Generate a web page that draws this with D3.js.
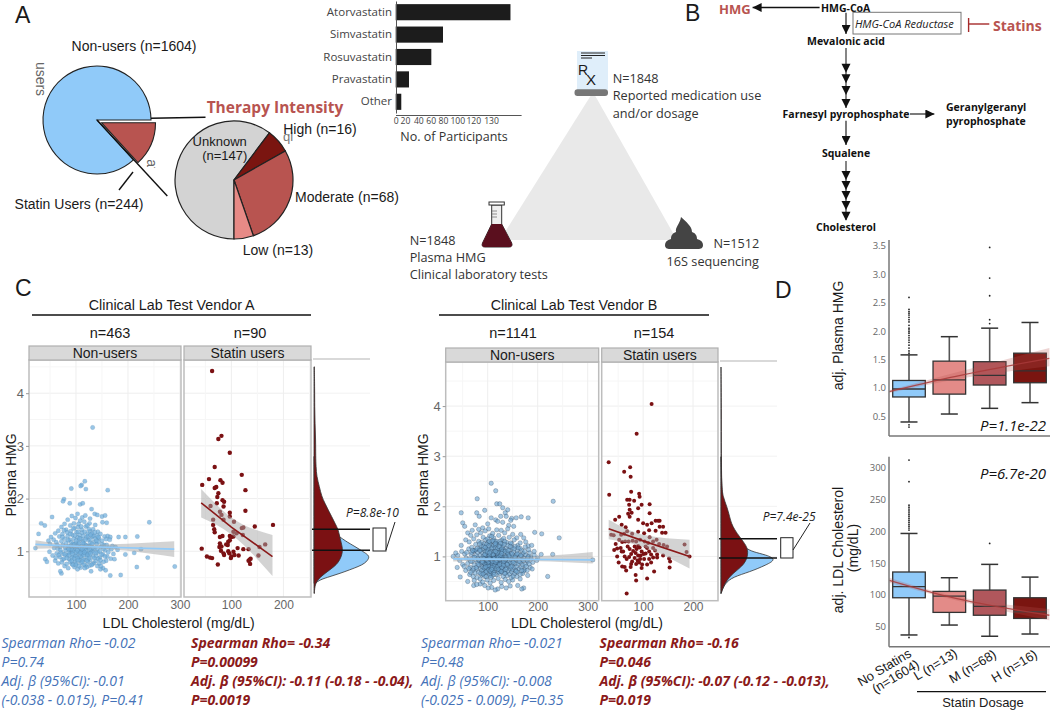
<!DOCTYPE html>
<html lang="en">
<head>
<meta charset="UTF-8">
<title>Statin use, plasma HMG and LDL cholesterol</title>
<script src="https://d3js.org/d3.v7.min.js"></script>
<style>
    html, body { margin: 0; padding: 0; background: #fff; }
    svg { display: block; }
    text { font-family: "Liberation Sans", Arial, sans-serif; }
    .os { font-family: "Open Sans", sans-serif; }
</style>
</head>
<body>
<div id="chart"></div>
<script>
// Panel A
const useLabels = ["Statin users", "Non-users"];
const useCounts = [244, 1604];
const intensityLabels = ["Unknown", "High", "Moderate", "Low"];
const intensityCounts = [147, 16, 68, 13];
const drugNames = ["Atorvastatin", "Simvastatin", "Rosuvastatin", "Pravastatin", "Other"];
const drugCounts = [141, 80, 61, 26, 12];
const drugTicks = [0, 20, 40, 60, 80, 100, 120, 130];

// Panel C, points are [LDL, HMG]
const nonUsersA = [[132,3.35],[111,2.26],[109,2.24],[117,2.33],[119,2.18],[91,2.19],[161,2.16],[77,1.99],[75,1.95],[88,1.91],[108,1.89],[113,1.91],[130,1.8],[241,1.55],[54,1.65],[33,1.53],[40,1.49],[28,1.33],[22,1.06],[290,.71],[238,.88],[217,.7],[186,.55],[166,.54],[72,.58],[41,.85],[44,.8],[218,1.28],[225,1.04],[212,.97],[195,1.27],[182,1.27],[195,.94],
[72,1.46],[78,1.52],[84,1.6],[92,1.67],[99,1.63],[103,1.71],[112,1.64],[118,1.68],[127,1.62],[136,1.71],[141,1.69],[150,1.66],[156,1.68],[151,1.55],[159,1.54],[126,1.53],[116,1.56],[108,1.58],[96,1.53],[89,1.49],[66,1.39],[60,1.34],[52,1.27],[57,1.22],[47,1.2],[50,1.14],[62,1.17],[68,1.28],[74,1.33],[81,1.41],[90,1.38],[97,1.44],[104,1.46],[111,1.41],[119,1.47],[127,1.38],[133,1.42],[142,1.37],[147,1.33],[155,1.28],[161,1.29],[166,1.27],[170,1.1],[176,1.08],[180,1.03],[172,.95],[167,.86],[174,.85],[158,.82],[152,.68],[157,.64],[147,.66],[141,.72],[135,.78],[129,.62],[118,.73],[109,.69],[103,.66],[97,.7],[92,.76],[85,.68],[78,.72],[70,.62],[66,.77],[60,.82],[55,.92],[49,.99],[63,.96],[69,.89],[74,.84],
[76,.95],[80,1.02],[83,.92],[87,.85],[90,.98],[93,1.08],[95,.9],[98,.81],[100,1.04],[102,.94],[104,1.12],[106,.88],[108,1],[110,.78],[111,1.1],[112,.92],[114,1.19],[115,1.03],[116,.84],[118,.96],[119,1.12],[121,.89],[122,1.06],[124,1.22],[125,.97],[127,.83],[128,1.11],[130,1],[131,1.28],[133,.9],[135,1.17],[136,1.05],[138,.82],[140,1.14],[142,.98],[144,1.25],[146,.88],[148,1.08],[150,1.2],[152,.94],[154,1.12],[156,1.02],[158,1.23],[160,.9],[163,1.07],[165,1.22],[168,1.04],[69,1.08],[72,1.19],[75,1.12],[78,1.24],[81,1.16],[84,1.29],[86,1.1],[88,1.22],[91,1.17],[93,1.31],[96,1.24],[99,1.15],[101,1.36],[103,1.27],[105,1.2],[107,1.31],[110,1.24],[112,1.35],[114,1.29],[117,1.37],[120,1.26],[122,1.33],[125,1.42],[128,1.22],[131,1.34],[134,1.29],[137,1.24],[140,1.3],[143,1.18],[58,1.06],[61,.88],[65,1.05],[67,.93],[71,.98],[73,.79],[77,.86],[82,.76],[86,.97],[89,.8],[94,.74],[96,1.01],[99,.91],[101,.77],[105,.98],[107,1.07],[109,.9],[113,.84],[113,1],[117,1.05],[120,.97],[123,.8],[126,.92],[129,1.04],[132,.76],[134,.98],[139,.91],[143,.86],[145,.77],[149,.94],[153,.8],[94,.99],[97,1.09],[100,.98],[103,1.02],[106,1.15],[109,1.06],[111,.96],[116,1.14],[119,1.01],[122,.93],[124,1.09],[127,1.16],[92,.88],[88,1.04],[84,1.06],[79,.94],[107,.83],[115,.75],[121,.7],[126,.73],[83,1.36],[77,1.4],[105,1.52],[122,1.49],[137,1.5],
[64,1.12],[70,1.02],[74,1.27],[79,1.07],[82,.87],[85,1.21],[87,.93],[89,1.33],[91,1.04],[92,.82],[94,1.14],[95,1.43],[97,.86],[98,1.3],[100,.74],[101,1.1],[103,.87],[104,1.37],[106,.72],[107,1.24],[109,.97],[110,1.47],[112,.8],[113,1.16],[115,.93],[117,.68],[118,1.22],[120,1.1],[121,.82],[123,1.29],[125,.87],[126,1.04],[128,.96],[130,.74],[131,1.14],[133,1.07],[135,.87],[136,1.36],[138,.97],[141,1.05],[143,1.27],[146,1],[148,.72],[150,1.13],[153,1.05],[156,.9],[159,1.12],[162,.98],[100,1.2],[96,1.12],[90,1.1],[86,1.04],[112,1.04],[116,.98],[104,.83],[93,.95],[128,1.31],[139,1.2],[147,.83]];
const statinA = [[63,4.42],[75,3.13],[81,3.19],[97,2.87],[68,2.6],[120,2.45],[44,2.26],[57,2.37],[79,2.35],[83,2.3],[71,2.22],[68,2.2],[127,2.16],[75,2.1],[73,2.03],[83,1.97],[86,1.94],[72,1.91],[60,1.86],[85,1.85],[127,1.77],[78,1.75],[81,1.69],[97,1.73],[97,1.66],[85,1.6],[105,1.56],[180,1.5],[65,1.6],[65,1.5],[145,1.47],[67,1.42],[123,1.45],[120,1.44],[104,1.37],[110,1.34],[83,1.29],[97,1.29],[100,1.27],[104,1.28],[78,1.27],[122,1.31],[94,1.18],[97,1.21],[93,1.12],[90,1.13],[78,1.15],[77,1.08],[81,1.09],[80,1.01],[43,1.05],[133,1.04],[123,1.04],[112,1.06],[104,.99],[94,1],[86,.93],[85,.96],[154,1.08],[165,1.13],[53,.9],[59,.88],[63,.87],[74,.75],[100,.9],[106,.93],[114,.92],[99,.87],[135,.84],[137,.86],[133,.82],[136,.76],[152,.92],[96,.96],[68,1.36]];
const nonUsersB = [[107,2.46],[116,2.31],[47,1.87],[79,2.15],[130,1.97],[118,2.05],[124,2.05],[231,2.1],[243,1.37],[208,1.45],[194,1.48],[181,1.77],[167,1.79],[148,1.76],[140,1.93],[135,1.87],[50,1.67],[54,1.6],[40,1.02],[36,1.07],[31,1],[45,.59],[60,.5],[72,.42],[220,.6],[310,.93],[230,1.04],[207,1.04],[193,1.03],[186,.98],[200,.97],[78,1.87],[83,1.8],[94,1.92],[100,1.65],[107,1.77],[116,1.73],[126,1.8],[137,1.8],[146,1.72],[157,1.77],[152,1.6],[142,1.62],[130,1.68],[120,1.7],[75,1.63],[69,1.52],[82,1.54],[90,1.57],[60,1.47],[66,1.42],[56,1.33],[47,1.22],[63,1.29],[72,1.35],[78,1.43],[86,1.47],[95,1.51],[102,1.55],[110,1.46],[118,1.53],[127,1.52],[134,1.47],[140,1.55],[150,1.44],[158,1.37],[166,1.44],[172,1.37],[176,1.29],[181,1.21],[188,1.22],[182,1.13],[175,1.19],[168,1.12],[193,1.1],[198,.92],[190,.88],[180,.9],[185,.78],[174,.74],[170,.66],[180,.62],[165,.55],[158,.6],[150,.53],[145,.41],[160,.42],[172,.37],[168,.35],[137,.37],[128,.4],[120,.35],[115,.33],[108,.38],[101,.37],[94,.42],[85,.45],[78,.44],[73,.52],[64,.64],[56,.72],[50,.84],[44,.92],[39,.78],[48,1.1],[54,1.05],[57,.97],[62,1.15],[68,1.18],[72,1.1],[76,1.24],[82,1.3],[88,1.28],[91,1.38],[96,1.33],[104,1.41],[108,1.3],[112,1.37],[117,1.26],[122,1.42],[128,1.33],[132,1.36],[138,1.28],[143,1.38],[148,1.25],[153,1.33],[160,1.22],[165,1.27],
[60,.86],[63,.95],[65,.78],[67,1.04],[69,.9],[70,.72],[71,.6],[72,.98],[73,.83],[74,1.12],[75,.67],[76,.93],[77,1.02],[78,.75],[79,.58],[80,.88],[80,1.08],[81,.97],[82,.68],[83,1.16],[83,.82],[84,.92],[85,.55],[85,1.02],[86,.76],[87,1.21],[87,.87],[88,.63],[88,.97],[89,1.08],[90,.79],[90,.49],[91,.92],[91,1.15],[92,.71],[92,1.01],[93,.86],[93,1.25],[94,.96],[94,.6],[95,.8],[95,1.1],[96,.9],[96,.68],[97,1],[97,1.19],[98,.75],[98,.87],[99,.94],[99,.53],[100,1.06],[100,.82],[101,1.28],[101,.91],[102,.66],[102,.98],[103,.86],[103,1.14],[104,.77],[104,.94],[105,.47],[105,1.03],[106,.88],[106,.7],[107,.99],[107,1.22],[108,.83],[108,.92],[109,1.09],[109,.61],[110,.95],[110,.76],[111,.88],[111,1.17],[112,1.01],[112,.52],[113,.91],[113,.8],[114,1.31],[114,.97],[115,.72],[115,1.06],[116,.86],[116,.93],[117,.64],[117,1.13],[118,.98],[118,.84],[119,.78],[119,1.24],[120,.91],[120,1.03],[121,.56],[121,.87],[122,.95],[122,1.12],[123,.73],[123,.83],[124,1],[124,.66],[125,.9],[125,1.19],[126,.8],[126,1.07],[127,.96],[127,.48],[128,.87],[128,.69],[129,1.02],[129,1.25],[130,.76],[130,.93],[131,1.12],[131,.6],[132,.85],[132,.98],[133,.72],[133,1.06],[134,.92],[134,1.3],[135,.81],[135,.54],[136,1],[136,.67],[137,.88],[137,1.16],[138,.77],[138,.95],[139,1.08],[139,.62],[140,.85],[140,1.22],[141,.71],[141,.96],[142,1.03],[142,.5],[143,.9],[143,.8],[144,1.13],[144,.65],[145,.98],[145,.75],[146,.87],[146,1.27],[147,1.06],[147,.58],[148,.93],[148,.69],[149,.82],[149,1.17],[150,1],[150,.74],[151,.61],[152,.91],[152,1.09],[153,.78],[154,.97],[154,.66],[155,1.2],[155,.86],[156,.72],[157,1.03],[157,.93],[158,.8],[159,1.12],[160,.69],[160,.95],[161,.85],[162,1.05],[163,.75],[164,.98],[165,1.16],[165,.64],[166,.88],[167,.78],[168,1.01],[169,.93],[170,.83],[171,1.06],[172,.71],[173,.96],[175,.84],[176,1.03],[178,.93],[179,.72],[181,1],[183,.85],[187,.95],[189,.75],
[95,.84],[96,1.03],[97,.7],[98,1.13],[99,.79],[100,.95],[101,1.14],[102,.74],[103,1.02],[104,1.25],[105,.8],[106,1.1],[107,.67],[108,1.17],[109,.85],[110,1.05],[111,.72],[112,1.22],[113,1.09],[114,.82],[115,1.17],[116,.76],[117,.97],[118,1.3],[119,.88],[120,1.16],[121,1.01],[122,.69],[123,1.08],[124,1.3],[125,.73],[126,1],[127,1.14],[128,.78],[129,.94],[130,1.2],[90,.88],[92,1.2],[94,1.04],[86,1.12],[88,.72],[84,1.25],[100,1.35],[104,.62],[108,1.4],[112,.68],[116,1.23],[120,.8],[126,1.26],[132,1.13],[136,.74],[140,1.06],[98,1.24],[102,1.21],[106,.58],[110,1.31],[128,1.15],[134,.66],[82,.93],[76,1.13],[72,.76],[68,1.08],[66,.68],[58,1.08],[53,.8],
[62,.76],[66,.9],[70,1.12],[74,.98],[77,.78],[79,1.16],[81,.84],[84,1.12],[86,.66],[89,.9],[91,.65],[93,.77],[95,1.18],[97,.6],[99,1.09],[101,.82],[103,1.3],[105,.71],[107,.89],[109,.78],[111,1.03],[113,.64],[115,1.26],[117,.88],[119,1.07],[121,.74],[123,1.2],[125,1.02],[127,.7],[129,1.1],[131,.83],[133,1.24],[135,1.1],[137,.98],[139,.84],[141,1.12],[143,1.01],[145,1.2],[147,.79],[149,1.05],[151,.88],[153,1.15],[155,.99],[157,.7],[159,1.05],[161,1.17],[163,.9],[166,1.02],[168,.72],[171,.92],[174,1.1],[177,.8],[180,.97],[184,1.07],[92,.96],[96,.79],[100,.88],[104,1.07],[108,.74],[112,.96],[116,1.1],[120,.94],[124,.84],[128,1.06],[132,.9],[136,.94],[100,.92],[102,.89],[105,.95],[107,.93],[110,.9],[103,.96],[113,.95],[115,.89],[98,.93],[118,.92],[121,.97],[124,.94]];
const statinB = [[117,4.04],[87,3.45],[31,2.88],[74,2.78],[62,2.69],[75,2.59],[32,2.23],[76,2.29],[92,2.25],[93,2.19],[68,2.13],[73,2.13],[82,2.11],[72,2.03],[113,2.04],[97,2.03],[90,1.96],[73,1.93],[77,1.87],[113,1.86],[70,1.85],[52,1.79],[44,1.73],[73,1.79],[90,1.73],[125,1.71],[130,1.71],[133,1.71],[117,1.66],[100,1.66],[108,1.63],[57,1.63],[65,1.58],[133,1.59],[140,1.59],[36,1.43],[41,1.42],[56,1.43],[62,1.45],[68,1.5],[78,1.45],[90,1.49],[102,1.46],[112,1.52],[125,1.51],[138,1.47],[145,1.47],[183,1.24],[187,1.09],[193,1],[152,.96],[154,.9],[153,.78],[140,1.02],[128,1.04],[120,.98],[122,.7],[108,.56],[85,.63],[86,.52],[67,.26],[76,.85],[66,.72],[58,.8],[63,.79],[51,.88],[48,1],[42,1.13],[48,1.16],[55,1.17],[58,1.29],[64,1.3],[71,1.3],[79,1.31],[86,1.3],[94,1.33],[103,1.3],[113,1.38],[120,1.3],[127,1.33],[132,1.25],[141,1.23],[148,1.2],[60,1.1],[63,1],[67,.95],[72,.99],[76,1.05],[80,1.11],[83,1.2],[87,1.15],[90,1.21],[93,1.18],[97,1.1],[101,1.05],[105,1.2],[108,1.17],[112,1.1],[116,1.04],[120,1.17],[124,1.12],[128,.98],[78,.9],[83,.97],[86,.85],[89,.92],[92,.88],[95,1.02],[98,.84],[102,.95],[105,1.06],[108,.84],[112,.95],[116,.88],[73,1.15],[69,1.2],[85,1.07],[90,1.02],[94,.95],[75,.79],[97,.77],[110,1.27],[57,1.1],[45,1.25],[52,1.33]];

// Fit lines and their bands: ldl, fit, upper, lower
const fitNonA = { ldl: [22, 110, 289], fit: [1.13, 1.09, 1.04], hi: [1.21, 1.12, 1.19], lo: [1.05, 1.06, .89] };
const fitStatA = { ldl: [42, 100, 179], fit: [1.92, 1.46, .9], hi: [2.18, 1.64, 1.31], lo: [1.64, 1.32, .53] };
const fitNonB = { ldl: [31, 110, 310], fit: [.95, .945, .93], hi: [1, .97, 1.09], lo: [.9, .92, .86] };
const fitStatB = { ldl: [31, 100, 193], fit: [1.55, 1.31, 1], hi: [1.73, 1.43, 1.33], lo: [1.34, 1.19, .76] };

// Densities beside the scatter panels
const densRedA = { hmg: [.2,.39,.51,.65,.77,.96,1.09,1.25,1.41,1.53,1.66,1.78,1.91,2.04,2.23,2.42,2.61,2.8,3.11,3.43,3.75,4.06,4.5], d: [.006,.018,.107,.286,.435,.512,.506,.464,.435,.375,.315,.256,.196,.137,.095,.048,.036,.03,.03,.018,.012,.012,.006] };
const densBlueA = { hmg: [.39,.46,.52,.58,.65,.71,.77,.87,.93,.99,1.09,1.18,1.25,1.41,1.53,1.78,2.16,2.8], d: [.018,.107,.286,.464,.643,.792,.911,.988,.97,.881,.732,.583,.494,.256,.137,.048,.012,.006] };
const densRedB = { hmg: [.26,.46,.59,.66,.79,.93,1.13,1.26,1.39,1.53,1.66,1.79,1.99,2.19,2.39,2.99,3.99,4.78], d: [0,.065,.155,.214,.363,.464,.488,.423,.333,.244,.185,.155,.107,.036,.012,.006,.006,0] };
const densBlueB = { hmg: [.26,.46,.59,.69,.83,.94,1.03,1.09,1.16,1.33,1.66,2.33,2.99], d: [0,.065,.214,.512,.81,.988,.81,.571,.452,.214,.065,.012,0] };

// Panel D
const dosage = ["No Statins", "L", "M", "H"];
const dosageColors = ["#90caf9", "#e38b88", "#b0575c", "#7a1510"];
const hmgBoxes = [
    { lo: .4, q1: .84, med: .98, q3: 1.13, hi: 1.58 },
    { lo: .54, q1: .89, med: 1.14, q3: 1.47, hi: 1.9 },
    { lo: .64, q1: 1.05, med: 1.22, q3: 1.46, hi: 2.05 },
    { lo: .74, q1: 1.09, med: 1.3, q3: 1.61, hi: 2.15 }
];
const hmgOutliers = [
    [.35, .31, 2.59, 2.38, 2.34, 2.31, 2.28, 2.24, 2.2, 2.16, 2.1, 2.05, 2.02, 1.99, 1.96, 1.92, 1.88, 1.84, 1.8, 1.75, 1.7, 1.65, 1.61],
    [],
    [3.47, 2.93, 2.62, 2.2, 2.13],
    []
];
const ldlBoxes = [
    { lo: 37, q1: 95.5, med: 113, q3: 136, hi: 196.6 },
    { lo: 52.6, q1: 72.5, med: 98, q3: 105.5, hi: 127 },
    { lo: 35, q1: 68, med: 82, q3: 107.6, hi: 148 },
    { lo: 38.5, q1: 63, med: 73.5, q3: 95.5, hi: 128 }
];
const ldlOutliers = [
    [312, 278, 241, 238, 235, 232, 229, 226, 223, 220, 217, 214, 211, 208, 205, 202, 33],
    [],
    [181],
    []
];
// position along dosage axis, fit, upper, lower
const trendHmg = { pos: [-.49, 1, 3.48], fit: [.935, 1.18, 1.52], hi: [.96, 1.24, 1.7], lo: [.91, 1.13, 1.38] };
const trendLdl = { pos: [-.49, 1, 3.48], fit: [123, 97, 68], hi: [127, 100, 78], lo: [119, 94, 60] };

const RED = "#b85450", DARK = "#7b1113", BLUE = "#90caf9", INK = "#1a1a1a";

const svg = d3.select("#chart").append("svg").attr("width", 1050).attr("height", 710);

function label(x, y, str, o = {}) {
    return svg.append("text")
        .attr("class", o.os ? "os" : null)
        .attr("x", x).attr("y", y)
        .attr("dominant-baseline", "central")
        .attr("text-anchor", o.anchor || "start")
        .attr("font-size", o.size || 13)
        .attr("font-weight", o.weight || null)
        .attr("font-style", o.italic ? "italic" : null)
        .attr("fill", o.fill || INK)
        .attr("transform", o.rotate ? `rotate(${o.rotate} ${x} ${y})` : null)
        .text(str);
}
function seg(x1, y1, x2, y2, stroke = "#111", w = 1.4) {
    svg.append("line").attr("x1", x1).attr("y1", y1).attr("x2", x2).attr("y2", y2)
        .attr("stroke", stroke).attr("stroke-width", w);
}

// Panel letters
label(15, 15, "A", { size: 23 });
label(685, 13, "B", { size: 23 });
label(15, 288, "C", { size: 23 });
label(775, 290, "D", { size: 23 });

// --- Panel A pies
const pieUse = d3.pie().sort(null).startAngle(Math.PI / 2).endAngle(Math.PI * 2.5)(useCounts);
const arcBig = d3.arc().innerRadius(0).outerRadius(54);
svg.append("path").attr("transform", "translate(97,120)").attr("d", arcBig(pieUse[1]))
    .attr("fill", BLUE).attr("stroke", "#222").attr("stroke-width", 1.1);
svg.append("path").attr("transform", "translate(101.5,122.7)").attr("d", arcBig(pieUse[0]))
    .attr("fill", RED).attr("stroke", "#222").attr("stroke-width", 1.1);

const pieIntensity = d3.pie().sort(null).startAngle(Math.PI).endAngle(Math.PI * 3)(intensityCounts);
const arcSmall = d3.arc().innerRadius(0).outerRadius(59);
const intensityColors = ["#d3d3d3", "#7a1510", RED, "#e78a86"];
svg.append("g").attr("transform", "translate(234,180)").selectAll("path").data(pieIntensity).join("path")
    .attr("d", arcSmall).attr("fill", (d, i) => intensityColors[i])
    .attr("stroke", "#222").attr("stroke-width", 1.2);

seg(151, 118.3, 205.5, 117.3);
seg(97, 120, 167.3, 196);
seg(119, 190, 133, 172);

label(134, 45.7, "Non-users (n=1604)", { anchor: "middle", size: 14 });
label(79, 204, "Statin Users (n=244)", { anchor: "middle", size: 14 });
label(41, 79, "users", { anchor: "middle", size: 14, fill: "#666", rotate: 90 });
svg.append("clipPath").attr("id", "cutStatin").append("rect").attr("x", 148).attr("y", 147).attr("width", 8).attr("height", 34);
label(152, 164, "Statin", { anchor: "middle", size: 14, fill: "#666", rotate: 90 }).attr("clip-path", "url(#cutStatin)");
label(288, 136, "ql", { anchor: "middle", size: 13, fill: "#777" });
label(275, 107, "Therapy Intensity", { anchor: "middle", size: 15.5, weight: 700, fill: RED, os: true });
label(320, 129, "High (n=16)", { anchor: "middle", size: 14 });
label(219.7, 141, "Unknown", { anchor: "middle", size: 13 });
label(224.8, 155, "(n=147)", { anchor: "middle", size: 13 });
label(295, 197, "Moderate (n=68)", { size: 14 });
label(278, 250, "Low (n=13)", { anchor: "middle", size: 14 });

// --- Panel A bars
const xDrug = d3.scaleLinear().domain(drugTicks).range([395.7, 405, 418.3, 430.7, 443, 457.3, 473.3, 491]);
const yDrug = d3.scaleBand().domain(drugNames).range([1, 113]).paddingInner(.28).paddingOuter(.14);
svg.append("g").selectAll("rect").data(drugNames).join("rect")
    .attr("x", xDrug(0)).attr("y", d => yDrug(d)).attr("height", yDrug.bandwidth())
    .attr("width", (d, i) => xDrug(drugCounts[i]) - xDrug(0))
    .attr("fill", "#1c1c1c");
const barY = svg.append("g").attr("transform", "translate(396,0)")
    .call(d3.axisLeft(yDrug).tickSize(0).tickPadding(4));
barY.select(".domain").attr("stroke", "#555").attr("stroke-width", 1);
barY.selectAll("text").attr("class", "os").attr("font-size", 11.5).attr("fill", "#444");
const barX = svg.append("g").attr("transform", "translate(0,115.5)")
    .call(d3.axisBottom(xDrug).tickValues(drugTicks).tickSize(0).tickPadding(2).tickFormat(d3.format("d")));
barX.select(".domain").remove();
barX.selectAll("text").attr("class", "os").attr("font-size", 8.6).attr("fill", "#444");
seg(396, 115.5, 521.6, 115.5, "#555", 1);
label(454, 136.7, "No. of Participants", { anchor: "middle", size: 12.5, os: true, fill: "#333" });

// --- Cohort triangle and icons
svg.append("path").attr("d", "M593,92L677,240L500,240Z").attr("fill", "#e9e9e9");
svg.append("rect").attr("x", 577).attr("y", 51).attr("width", 31).attr("height", 39).attr("fill", "#dfeefa");
svg.append("rect").attr("x", 574.5).attr("y", 89.3).attr("width", 33.5).attr("height", 6.6).attr("rx", 3).attr("fill", "#777");
seg(581, 53, 605, 53, "#222", 1);
seg(581, 55.5, 605, 55.5, "#222", 1);
seg(581, 58, 592, 58, "#222", 1);
label(583, 70, "R", { anchor: "middle", size: 14 });
label(591, 79, "X", { anchor: "middle", size: 15 });
label(612.7, 77.7, "N=1848", { size: 12.7, os: true, fill: "#333" });
label(612.7, 95, "Reported medication use", { size: 12.7, os: true, fill: "#333" });
label(612.7, 112.7, "and/or dosage", { size: 12.7, os: true, fill: "#333" });

svg.append("path").attr("d", "M491.7,205L501.7,205L501.7,224L511.7,243Q513,247 509,247L485,247Q481,247 482.5,243L491.7,224Z")
    .attr("fill", "#efefef").attr("stroke", "#333").attr("stroke-width", 1);
svg.append("path").attr("d", "M491.7,224L501.7,224L511.7,243Q513,247 509,247L485,247Q481,247 482.5,243Z").attr("fill", "#5a0f1e");
svg.append("rect").attr("x", 489).attr("y", 202).attr("width", 15.3).attr("height", 3).attr("fill", "#fff").attr("stroke", "#333");
seg(492, 211, 497, 211, "#777", .8);
seg(492, 214, 497, 214, "#777", .8);
seg(492, 217, 497, 217, "#777", .8);
label(409.7, 240, "N=1848", { size: 12.7, os: true, fill: "#333" });
label(409.7, 257, "Plasma HMG", { size: 12.7, os: true, fill: "#333" });
label(409.7, 274, "Clinical laboratory tests", { size: 12.7, os: true, fill: "#333" });

svg.append("path").attr("fill", "#444")
    .attr("d", "M681,217C686,222 692,226 692,232C695,233 697,235 697,239C701,240 703,242 703,245C703,248 701,249 698,249L670,249C667,249 665,248 665,245C665,242 667,240 671,239C671,235 673,233 676,232C675,227 680,224 681,217Z");
label(713.5, 243, "N=1512", { size: 12.7, os: true, fill: "#333" });
label(666.6, 260.7, "16S sequencing", { size: 12.7, os: true, fill: "#333" });

// --- Panel B pathway
svg.append("defs").append("marker").attr("id", "head").attr("viewBox", "0 0 10 10")
    .attr("refX", 10).attr("refY", 5).attr("markerWidth", 9).attr("markerHeight", 9)
    .attr("markerUnits", "userSpaceOnUse").attr("orient", "auto")
    .append("path").attr("d", "M0,0L10,5L0,10Z").attr("fill", "#111");
function arrow(x1, y1, x2, y2, stroke = "#333") {
    svg.append("line").attr("x1", x1).attr("y1", y1).attr("x2", x2).attr("y2", y2)
        .attr("stroke", stroke).attr("stroke-width", 1.3).attr("marker-end", "url(#head)");
}
function headsDown(x, tips) {
    tips.forEach(t => svg.append("path").attr("d", `M${x - 4.5},${t - 9}L${x + 4.5},${t - 9}L${x},${t}Z`).attr("fill", "#111"));
}
const pw = { size: 10.5, weight: 700, anchor: "middle", os: true, fill: "#111" };
label(845.7, 8, "HMG-CoA", pw);
label(846, 41.3, "Mevalonic acid", pw);
label(846, 114, "Farnesyl pyrophosphate", pw);
label(846, 153.3, "Squalene", pw);
label(846, 227.3, "Cholesterol", pw);
label(946, 106.7, "Geranylgeranyl", { ...pw, anchor: "start" });
label(946, 120.7, "pyrophosphate", { ...pw, anchor: "start" });
label(719, 8.5, "HMG", { size: 13, weight: 700, fill: RED, os: true });
label(993, 25, "Statins", { size: 14, weight: 700, fill: RED, os: true });
arrow(819.6, 7.5, 752.6, 7.5, "#111");
arrow(846, 12.7, 846, 34);
seg(846, 48, 846, 108, "#444", 1.3);
headsDown(846, [72.7, 83.3, 95, 108]);
arrow(910, 114, 934.4, 114);
arrow(846, 120.7, 846, 145);
seg(846, 161, 846, 220, "#444", 1.3);
headsDown(846, [180, 190, 200, 210, 220.7]);
svg.append("rect").attr("x", 853).attr("y", 12.3).attr("width", 108).attr("height", 21.7)
    .attr("fill", "none").attr("stroke", "#777").attr("stroke-width", 1);
label(904.3, 23.7, "HMG-CoA Reductase", { anchor: "middle", size: 11, italic: true, os: true, fill: "#222" });
seg(968.6, 18, 968.6, 32, "#a52a2a", 1.4);
seg(968.6, 24, 989.3, 24, "#a52a2a", 1.4);

// --- Panel C
function scatterGroup(g) {
    const yHmg = d3.scaleLinear().domain(g.yDomain).range([g.bottom, g.top]);
    const area = d3.area().curve(d3.curveMonotoneX).x(d => d[0]).y0(d => yHmg(d[3])).y1(d => yHmg(d[2]));
    const line = d3.line().x(d => d[0]).y(d => yHmg(d[1]));

    [g.left, g.right].forEach(p => {
        const x = d3.scaleLinear().domain(p.xDomain).range(p.range);
        const w = p.range[1] - p.range[0], h = g.bottom - g.top;

        // background grid
        const grid = svg.append("g");
        d3.range(.5, 4.6, .5).forEach(v => grid.append("line").attr("x1", p.range[0]).attr("x2", p.range[1])
            .attr("y1", yHmg(v)).attr("y2", yHmg(v)).attr("stroke", v % 1 ? "#f6f6f6" : "#eeeeee").attr("stroke-width", 1));
        d3.range(50, p.xDomain[1], 50).forEach(v => grid.append("line").attr("y1", g.top).attr("y2", g.bottom)
            .attr("x1", x(v)).attr("x2", x(v)).attr("stroke", v % 100 ? "#f6f6f6" : "#eeeeee").attr("stroke-width", 1));

        const dots = svg.append("g");
        dots.selectAll("circle").data(p.points).join("circle")
            .attr("cx", d => x(d[0])).attr("cy", d => yHmg(d[1])).attr("r", p.r)
            .attr("fill", p.color).attr("fill-opacity", p.opacity)
            .attr("stroke", p.edge || "none").attr("stroke-opacity", p.edgeOpacity || 0).attr("stroke-width", .6);

        const rows = p.fit.ldl.map((l, i) => [x(l), p.fit.fit[i], p.fit.hi[i], p.fit.lo[i]]);
        svg.append("path").attr("d", area(rows)).attr("fill", "#a8a8a8").attr("fill-opacity", .5);
        svg.append("path").attr("d", line(rows)).attr("fill", "none").attr("stroke", p.lineColor).attr("stroke-width", 1.6);

        svg.append("rect").attr("x", p.range[0]).attr("y", g.top).attr("width", w).attr("height", h)
            .attr("fill", "none").attr("stroke", "#bdbdbd").attr("stroke-width", 1.5);
        svg.append("rect").attr("x", p.range[0]).attr("y", g.stripTop).attr("width", w).attr("height", g.top - g.stripTop)
            .attr("fill", "#d9d9d9").attr("stroke", "#b0b0b0").attr("stroke-width", 1.2);
        label((p.range[0] + p.range[1]) / 2, (g.top + g.stripTop) / 2, p.name, { anchor: "middle", size: 14 });
        label(p.nx, 333, p.n, { anchor: "middle", size: 14.5 });

        const axis = svg.append("g").attr("transform", `translate(0,${g.bottom})`)
            .call(d3.axisBottom(x).tickValues(p.ticks).tickSize(0).tickPadding(g.tickPad));
        axis.select(".domain").remove();
        axis.selectAll("text").attr("font-size", 12).attr("fill", "#666").attr("font-family", "Liberation Sans");
    });

    const yAxis = svg.append("g").attr("transform", `translate(${g.left.range[0]},0)`)
        .call(d3.axisLeft(yHmg).tickValues([1, 2, 3, 4]).tickSize(3).tickPadding(2).tickFormat(d3.format("d")));
    yAxis.select(".domain").remove();
    yAxis.selectAll("line").attr("stroke", "#999");
    yAxis.selectAll("text").attr("font-size", 13).attr("fill", "#666").attr("font-family", "Liberation Sans");

    // density strip
    const xD = d3.scaleLinear().domain([0, 1]).range(g.dens.range);
    [1, 2, 3, 4].forEach(v => svg.append("line").attr("x1", g.dens.range[0]).attr("x2", g.dens.range[1])
        .attr("y1", yHmg(v)).attr("y2", yHmg(v)).attr("stroke", "#f2f2f2"));
    seg(g.dens.range[0] - 1, g.top - 1, g.dens.range[1], g.top - 1, "#cccccc", 1.4);
    const dArea = d3.area().curve(d3.curveBasis).y(d => yHmg(d[0])).x0(xD(0)).x1(d => xD(d[1]));
    [[g.dens.blue, BLUE], [g.dens.red, DARK]].forEach(([s, col]) => {
        svg.append("path").attr("d", dArea(s.hmg.map((h, i) => [h, s.d[i]])))
            .attr("fill", col).attr("stroke", "#333").attr("stroke-width", .8);
    });
    g.dens.lines.forEach(v => seg(g.dens.range[0] - 2, yHmg(v), g.dens.range[1], yHmg(v), "#111", 1.5));
}

scatterGroup({
    top: 360, bottom: 597, stripTop: 346, yDomain: [.132, 4.63], tickPad: 3,
    left: { name: "Non-users", n: "n=463", nx: 110, range: [29, 181], xDomain: [9.6, 302], ticks: [100, 200, 300], points: nonUsersA, fit: fitNonA, color: "#70aedc", opacity: .72, edge: "#2c5575", edgeOpacity: .18, r: 2.2, lineColor: BLUE },
    right: { name: "Statin users", n: "n=90", nx: 250, range: [184, 311], xDomain: [9, 253], ticks: [100, 200], points: statinA, fit: fitStatA, color: DARK, opacity: 1, r: 2.2, lineColor: "#8b1a1a" },
    dens: { range: [314, 370], red: densRedA, blue: densBlueA, lines: [1.42, 1.02] }
});
scatterGroup({
    top: 362, bottom: 600.7, stripTop: 348, yDomain: [.116, 4.88], tickPad: 2,
    left: { name: "Non-users", n: "n=1141", nx: 513, range: [445.7, 598.7], xDomain: [16, 322], ticks: [100, 200, 300], points: nonUsersB, fit: fitNonB, color: "#6ea6d2", opacity: .62, edge: "#14283c", edgeOpacity: .4, r: 2.2, lineColor: BLUE },
    right: { name: "Statin users", n: "n=154", nx: 654, range: [601.7, 718], xDomain: [17, 250], ticks: [100, 200], points: statinB, fit: fitStatB, color: DARK, opacity: 1, r: 2, lineColor: "#8b1a1a" },
    dens: { range: [721, 777], red: densRedB, blue: densBlueB, lines: [1.35, .97] }
});

label(171.7, 305, "Clinical Lab Test Vendor A", { anchor: "middle", size: 14.3 });
seg(32, 315, 311, 315, "#111", 1.4);
label(574, 305, "Clinical Lab Test Vendor B", { anchor: "middle", size: 14.3 });
seg(439, 315, 709, 315, "#111", 1.4);
label(11, 475, "Plasma HMG", { anchor: "middle", size: 14, rotate: -90 });
label(422.7, 475, "Plasma HMG", { anchor: "middle", size: 14, rotate: -90 });
label(178.6, 623, "LDL Cholesterol (mg/dL)", { anchor: "middle", size: 14 });
label(587, 623, "LDL Cholesterol (mg/dL)", { anchor: "middle", size: 14 });

// P value brackets
function bracket(x, y, w, h, x1, y1, x2, y2) {
    svg.append("rect").attr("x", x).attr("y", y).attr("width", w).attr("height", h)
        .attr("fill", "#fff").attr("stroke", "#222").attr("stroke-width", 1);
    seg(x1, y1, x2, y2, "#222", 1);
}
bracket(373, 528, 13, 23, 386, 550, 395, 522);
label(346, 512, "P=8.8e-10", { size: 12, italic: true, os: true });
bracket(780.7, 537.7, 12.3, 20.3, 793, 550, 810, 523);
label(762.7, 516, "P=7.4e-25", { size: 12, italic: true, os: true });

// Stats under the panels
const blueTxt = "#4472b8";
const stats = [
    { x: 1.5, fill: blueTxt, bold: false, lines: ["Spearman Rho= -0.02", "P=0.74", "Adj.  β (95%CI): -0.01", "(-0.038  - 0.015), P=0.41"] },
    { x: 191, fill: "#8b1a1a", bold: true, lines: ["Spearman Rho= -0.34", "P=0.00099", "Adj. β (95%CI):  -0.11 (-0.18 - -0.04),", "P=0.0019"] },
    { x: 421, fill: blueTxt, bold: false, lines: ["Spearman Rho= -0.021", "P=0.48", "Adj.  β (95%CI): -0.008", "(-0.025 - 0.009), P=0.35"] },
    { x: 599.5, fill: "#8b1a1a", bold: true, lines: ["Spearman Rho= -0.16", "P=0.046", "Adj.  β (95%CI): -0.07 (-0.12 - -0.013),", "P=0.019"] }
];
const statRows = [642, 661.7, 680, 699];
stats.forEach(s => s.lines.forEach((t, i) => label(s.x, statRows[i], t,
    { size: 14, italic: true, os: true, fill: s.fill, weight: s.bold ? 700 : null })));

// --- Panel D
function boxPanel(p) {
    const y = d3.scaleLinear().domain(p.domain).range(p.range);
    const xPos = d3.scaleLinear().domain([0, 3]).range([909, 1030]);
    const half = 16.3, cap = 8.5;
    p.boxes.forEach((b, i) => {
        const cx = xPos(i);
        seg(cx, y(b.lo), cx, y(b.hi), "#555", 1.6);
        seg(cx - cap, y(b.lo), cx + cap, y(b.lo), "#333", 1.5);
        seg(cx - cap, y(b.hi), cx + cap, y(b.hi), "#333", 1.5);
        svg.append("rect").attr("x", cx - half).attr("y", y(b.q3)).attr("width", half * 2)
            .attr("height", y(b.q1) - y(b.q3)).attr("fill", dosageColors[i]).attr("stroke", "#333").attr("stroke-width", 1.3);
        seg(cx - half, y(b.med), cx + half, y(b.med), "#333", 1.3);
        svg.append("g").selectAll("circle").data(p.outliers[i]).join("circle")
            .attr("cx", cx).attr("cy", d => y(d)).attr("r", .9).attr("fill", "#222");
    });
    const t = p.trend.pos.map((v, i) => [xPos(v), p.trend.fit[i], p.trend.hi[i], p.trend.lo[i]]);
    const band = d3.area().curve(d3.curveMonotoneX).x(d => d[0]).y0(d => y(d[3])).y1(d => y(d[2]));
    svg.append("path").attr("d", band(t)).attr("fill", "#b85450").attr("fill-opacity", .25);
    svg.append("path").attr("d", d3.line().curve(d3.curveMonotoneX).x(d => d[0]).y(d => y(d[1]))(t))
        .attr("fill", "none").attr("stroke", "#a83a3a").attr("stroke-opacity", .85).attr("stroke-width", 1.3);

    const ax = svg.append("g").attr("transform", "translate(889,0)")
        .call(d3.axisLeft(y).tickValues(p.ticks).tickSize(0).tickPadding(3).tickFormat(p.format));
    ax.select(".domain").remove();
    ax.selectAll("text").attr("class", "os").attr("font-size", 9.5).attr("fill", "#666");
    seg(889, p.axisTop, 889, p.axisBottom, "#777", 1.5);
    seg(889, p.axisBottom, 1050, p.axisBottom, "#777", 1.5);
}
boxPanel({
    domain: [.5, 3.5], range: [416.3, 245.7], boxes: hmgBoxes, outliers: hmgOutliers, trend: trendHmg,
    ticks: [.5, 1, 1.5, 2, 2.5, 3, 3.5], format: d3.format(".1f"), axisTop: 240, axisBottom: 436
});
boxPanel({
    domain: [50, 300], range: [626.7, 467.7], boxes: ldlBoxes, outliers: ldlOutliers, trend: trendLdl,
    ticks: [50, 100, 150, 200, 250, 300], format: d3.format("d"), axisTop: 456.7, axisBottom: 646.7
});
label(838, 335.5, "adj. Plasma HMG", { anchor: "middle", size: 14, rotate: -90 });
label(838, 550, "adj. LDL Cholesterol", { anchor: "middle", size: 14, rotate: -90 });
label(853, 548, "(mg/dL)", { anchor: "middle", size: 14, rotate: -90 });
label(980, 425, "P=1.1e-22", { size: 15, italic: true, os: true, fill: "#111" });
label(980, 472.7, "P=6.7e-20", { size: 15, italic: true, os: true, fill: "#111" });

const tilt = { anchor: "end", size: 13, rotate: -31 };
label(910, 652, dosage[0], tilt);
label(918, 663, "(n=1604)", tilt);
label(956, 652, `${dosage[1]} (n=13)`, tilt);
label(995, 653, `${dosage[2]}  (n=68)`, tilt);
label(1036, 653, `${dosage[3]} (n=16)`, tilt);
seg(917, 691.7, 1046, 691.7, "#111", 1.3);
label(983, 702, "Statin Dosage", { anchor: "middle", size: 13 });
</script>
</body>
</html>
